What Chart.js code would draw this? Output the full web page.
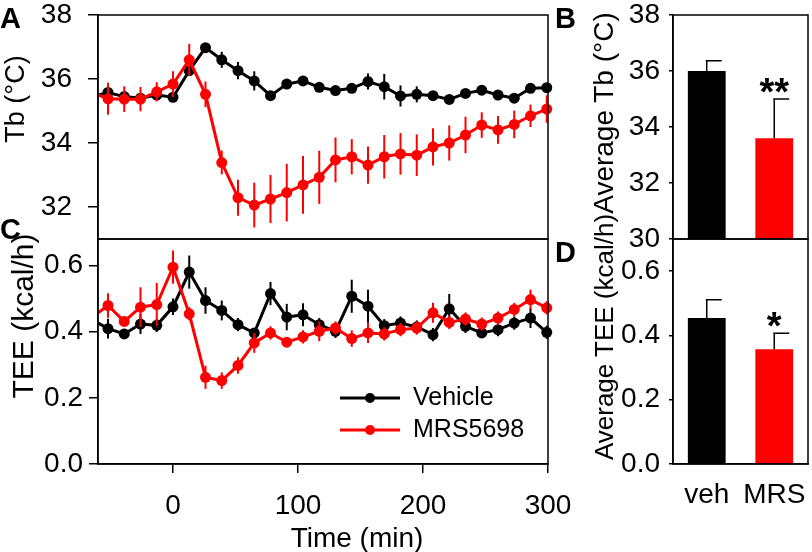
<!DOCTYPE html>
<html>
<head>
<meta charset="utf-8">
<script src="https://cdn.jsdelivr.net/npm/chart.js@4.4.1/dist/chart.umd.min.js"></script>
<style>
body{margin:0;background:#fff;width:812px;height:552px;overflow:hidden;position:relative;font-family:"Liberation Sans",Arial,sans-serif;}
canvas{position:absolute;}
.lbl{position:absolute;white-space:nowrap;color:#000;line-height:1;}
.panel{font-weight:bold;font-size:29px;}
.rot{transform:translate(-50%,-50%) rotate(-90deg);font-size:27px;}
</style>
</head>
<body>
<canvas id="chartA" width="560" height="245" style="left:0px;top:0px"></canvas>
<canvas id="chartC" width="590" height="323" style="left:0px;top:229px"></canvas>
<canvas id="chartB" width="252" height="262" style="left:560px;top:0px"></canvas>
<canvas id="chartD" width="252" height="323" style="left:560px;top:229px"></canvas>

<div class="lbl panel" style="left:0px;top:4px">A</div>
<div class="lbl panel" style="left:555px;top:4px">B</div>
<div class="lbl panel" style="left:0px;top:215px">C</div>
<div class="lbl panel" style="left:555px;top:238px">D</div>
<div class="lbl rot" style="left:15px;top:99px;font-size:27px">Tb (°C)</div>
<div class="lbl rot" style="left:23px;top:316px;font-size:30px">TEE (kcal/h)</div>
<div class="lbl rot" style="left:604px;top:113px;font-size:28px">Average Tb (°C)</div>
<div class="lbl rot" style="left:604px;top:337px;font-size:26px">Average TEE (kcal/h)</div>
<div class="lbl" style="left:357px;top:538px;transform:translate(-50%,-50%);font-size:28px">Time (min)</div>

<script>
// time points (min)
let times = [-65,-52,-39,-26,-13,0,13,26,39,52,65,78,91,104,117,130,143,156,169,182,195,208,221,234,247,260,273,286,299]

// body temperature (°C)
let vehTb    = [35.45,35.58,35.45,35.40,35.50,35.43,36.26,36.98,36.60,36.26,35.94,35.48,35.84,35.94,35.74,35.64,35.71,35.92,35.76,35.47,35.52,35.48,35.36,35.55,35.65,35.50,35.40,35.71,35.73]
let vehTbErr = [0.10,0.15,0.12,0.10,0.10,0.10,0.15,0.10,0.25,0.27,0.30,0.10,0.10,0.10,0.12,0.10,0.10,0.25,0.40,0.33,0.25,0.12,0.10,0.12,0.10,0.10,0.10,0.12,0.15]
let mrsTb    = [35.58,35.38,35.37,35.37,35.60,35.84,36.60,35.52,33.39,32.29,32.06,32.25,32.45,32.69,32.93,33.47,33.57,33.31,33.57,33.66,33.62,33.88,34.00,34.25,34.56,34.41,34.58,34.85,35.06]
let mrsTbErr = [0.40,0.50,0.40,0.38,0.30,0.40,0.50,0.40,0.37,0.56,0.70,0.75,0.90,0.90,0.83,0.70,0.55,0.58,0.68,0.65,0.65,0.58,0.55,0.57,0.40,0.43,0.43,0.35,0.43]

// energy expenditure (kcal/h)
let vehTee    = [0.437,0.409,0.393,0.423,0.419,0.475,0.580,0.494,0.464,0.421,0.396,0.515,0.444,0.451,0.421,0.401,0.507,0.477,0.418,0.426,0.414,0.391,0.469,0.416,0.396,0.406,0.426,0.441,0.398]
let vehTeeErr = [0.02,0.03,0.015,0.03,0.02,0.025,0.05,0.04,0.03,0.02,0.015,0.035,0.04,0.035,0.02,0.02,0.05,0.05,0.02,0.02,0.02,0.02,0.045,0.02,0.015,0.02,0.02,0.03,0.02]
let mrsTee    = [0.443,0.479,0.431,0.474,0.482,0.595,0.454,0.262,0.252,0.298,0.366,0.396,0.368,0.384,0.401,0.411,0.379,0.396,0.393,0.406,0.411,0.457,0.428,0.438,0.423,0.441,0.467,0.497,0.472]
let mrsTeeErr = [0.02,0.037,0.015,0.06,0.065,0.05,0.02,0.035,0.025,0.025,0.03,0.02,0.015,0.02,0.03,0.02,0.025,0.03,0.02,0.02,0.02,0.03,0.02,0.02,0.02,0.02,0.02,0.03,0.02]

// averages
let groups = ['veh','MRS']
let avgTb = [36.0, 33.6]
let avgTbErr = [0.37, 1.4]
let avgTee = [0.454, 0.357]
let avgTeeErr = [0.057, 0.05]
let sigMarksTb = ['', '**']
let sigMarksTee = ['', '*']

// tick labels
let timeTicks = [0,100,200,300]
let tbTicks = [32,34,36,38]
let avgTbTicks = [30,32,34,36,38]
let teeTicks = [0,0.2,0.4,0.6]

const RED = 'rgb(255,0,0)'
Chart.defaults.font.family = '"Liberation Sans", Arial, sans-serif'
Chart.defaults.color = '#000'

function pts(ys){
    return times.map((t,i) => ({x:t, y:ys[i]}))
}

// draw the error bars of a line dataset just before its line and dots
const lineErrors = {
    id: 'lineErrors',
    beforeDatasetDraw(chart, args){
        const ds = chart.data.datasets[args.index]
        const ctx = chart.ctx, xs = chart.scales.x, ys = chart.scales.y
        ctx.save()
        ctx.strokeStyle = ds.borderColor
        ctx.lineWidth = 2
        ds.data.forEach((p,i) => {
            if(p.x < xs.min) return
            const x = xs.getPixelForValue(p.x)
            ctx.beginPath()
            ctx.moveTo(x, ys.getPixelForValue(p.y - ds.err[i]))
            ctx.lineTo(x, ys.getPixelForValue(p.y + ds.err[i]))
            ctx.stroke()
        })
        ctx.restore()
    }
}

// box round the plot area
const frame = {
    id: 'frame',
    afterDraw(chart){
        const a = chart.chartArea, ctx = chart.ctx
        ctx.save()
        ctx.strokeStyle = '#000'
        ctx.lineWidth = 1.5
        ctx.strokeRect(a.left, a.top, a.right - a.left, a.bottom - a.top)
        ctx.restore()
    }
}

// legend inside panel C
const legendC = {
    id: 'legendC',
    afterDraw(chart){
        const ctx = chart.ctx
        const rows = [['Vehicle','#000',169],['MRS5698',RED,201]]
        ctx.save()
        rows.forEach(r => {
            ctx.strokeStyle = r[1]
            ctx.fillStyle = r[1]
            ctx.lineWidth = 3
            ctx.beginPath(); ctx.moveTo(340, r[2]); ctx.lineTo(400, r[2]); ctx.stroke()
            ctx.beginPath(); ctx.arc(370, r[2], 5, 0, Math.PI*2); ctx.fill()
            ctx.fillStyle = '#000'
            ctx.font = '25px "Liberation Sans", Arial, sans-serif'
            ctx.textBaseline = 'middle'
            ctx.fillText(r[0], 413, r[2])
        })
        ctx.restore()
    }
}

// upper error bars and significance marks on the bar charts
const barErrors = {
    id: 'barErrors',
    afterDatasetsDraw(chart){
        const ds = chart.data.datasets[0]
        const meta = chart.getDatasetMeta(0)
        const ctx = chart.ctx, ys = chart.scales.y
        ctx.save()
        ctx.strokeStyle = '#000'
        ctx.fillStyle = '#000'
        ctx.lineWidth = 1.5
        meta.data.forEach((bar,i) => {
            const top = ys.getPixelForValue(ds.data[i] + ds.err[i])
            ctx.beginPath()
            ctx.moveTo(bar.x, bar.y); ctx.lineTo(bar.x, top)
            ctx.moveTo(bar.x - 1, top); ctx.lineTo(bar.x + 15, top)
            ctx.stroke()
            if(ds.sig[i]){
                ctx.font = 'bold 38px "Liberation Sans", Arial, sans-serif'
                ctx.textAlign = 'center'
                ctx.textBaseline = 'alphabetic'
                ctx.fillText(ds.sig[i], bar.x, top + 6)
            }
        })
        ctx.restore()
    }
}

function lineSet(label, ys, err, color, order){
    return {
        label: label, data: pts(ys), err: err, order: order,
        borderColor: color, backgroundColor: color, pointBackgroundColor: color,
        pointBorderColor: color, borderWidth: 3, pointRadius: 5.5, pointBorderWidth: 0,
        tension: 0, clip: {left: 0, top: 12, right: 12, bottom: 12}
    }
}

// fixed axis sizes, no extra room for the end labels
function fixSize(w, h){
    return s => {
        if(w) s.width = w
        if(h) s.height = h
        s.paddingTop = 0; s.paddingBottom = 0; s.paddingLeft = 0; s.paddingRight = 0
    }
}

function yAxis(min, max, tickList, width, tickLen, pad, fmt){
    return {
        min: min, max: max,
        afterBuildTicks: s => { s.ticks = tickList.map(v => ({value: v})) },
        afterFit: fixSize(width, 0),
        ticks: {font: {size: 28}, color: '#000', padding: pad, callback: fmt},
        grid: {drawOnChartArea: false, tickLength: tickLen, color: '#000', lineWidth: 1.5},
        border: {display: true, color: '#000', width: 1.5}
    }
}

const common = {
    responsive: false, animation: false, devicePixelRatio: 1,
    plugins: {legend: {display: false}, tooltip: {enabled: false}}
}

new Chart(document.getElementById('chartA'), {
    type: 'line',
    data: {datasets: [lineSet('Vehicle', vehTb, vehTbErr, '#000', 1), lineSet('MRS5698', mrsTb, mrsTbErr, RED, 0)]},
    options: Object.assign({}, common, {
        layout: {padding: {top: 15, right: 12, bottom: 6, left: 0}},
        scales: {
            x: {type: 'linear', min: -60, max: 300, display: false},
            y: yAxis(31, 38, tbTicks, 98, 10, 16, v => v)
        }
    }),
    plugins: [lineErrors, frame]
})

new Chart(document.getElementById('chartC'), {
    type: 'line',
    data: {datasets: [lineSet('Vehicle', vehTee, vehTeeErr, '#000', 1), lineSet('MRS5698', mrsTee, mrsTeeErr, RED, 0)]},
    options: Object.assign({}, common, {
        layout: {padding: {top: 10, right: 42, bottom: 0, left: 0}},
        scales: {
            x: {
                type: 'linear', min: -60, max: 300,
                afterBuildTicks: s => { s.ticks = timeTicks.map(v => ({value: v})) },
                afterFit: fixSize(0, 88),
                ticks: {font: {size: 28}, color: '#000', padding: 16, maxRotation: 0, autoSkip: false},
                grid: {drawOnChartArea: false, tickLength: 9, color: '#000', lineWidth: 1.5},
                border: {display: true, color: '#000', width: 1.5}
            },
            y: yAxis(0, 0.68, teeTicks, 98, 9, 6, v => v.toFixed(1))
        }
    }),
    plugins: [lineErrors, frame, legendC]
})

new Chart(document.getElementById('chartB'), {
    type: 'bar',
    data: {labels: groups, datasets: [{data: avgTb, err: avgTbErr, sig: sigMarksTb, backgroundColor: ['#000', RED], borderWidth: 0, barPercentage: 0.56, categoryPercentage: 1}]},
    options: Object.assign({}, common, {
        layout: {padding: {top: 15, right: 4, bottom: 23, left: 0}},
        scales: {
            x: {display: false},
            y: yAxis(30, 38, avgTbTicks, 113, 4, 9, v => v)
        }
    }),
    plugins: [barErrors, frame]
})

new Chart(document.getElementById('chartD'), {
    type: 'bar',
    data: {labels: groups, datasets: [{data: avgTee, err: avgTeeErr, sig: sigMarksTee, backgroundColor: ['#000', RED], borderWidth: 0, barPercentage: 0.56, categoryPercentage: 1}]},
    options: Object.assign({}, common, {
        layout: {padding: {top: 10, right: 4, bottom: 0, left: 0}},
        scales: {
            x: {
                afterFit: fixSize(0, 88),
                ticks: {font: {size: 28}, color: '#000', padding: 14, maxRotation: 0, minRotation: 0, autoSkip: false},
                grid: {display: false, drawTicks: false},
                border: {display: true, color: '#000', width: 1.5}
            },
            y: yAxis(0, 0.7, teeTicks, 113, 4, 9, v => v.toFixed(1))
        }
    }),
    plugins: [barErrors, frame]
})
</script>
</body>
</html>
